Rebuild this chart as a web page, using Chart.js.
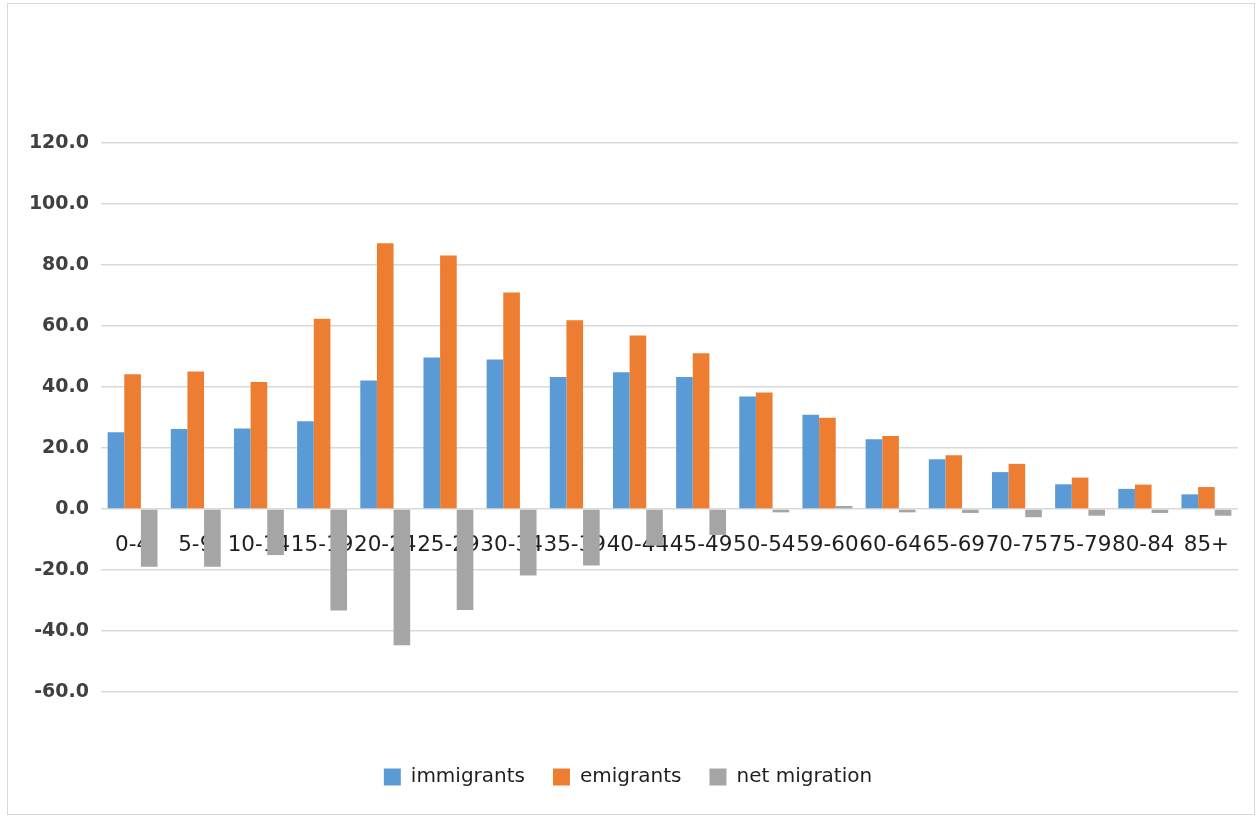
<!DOCTYPE html>
<html>
<head>
<meta charset="utf-8">
<script src="https://cdn.jsdelivr.net/npm/chart.js@4/dist/chart.umd.min.js"></script>
<style>
  html, body { margin: 0; padding: 0; background: #fff; }
  #wrap { position: relative; width: 1257px; height: 816px; }
  #frame { position: absolute; left: 7px; top: 3px; width: 1246px; height: 810px;
           border: 1px solid #d9d9d9; pointer-events: none; }
</style>
</head>
<body>
<div id="wrap">
  <canvas id="myChart" width="1257" height="816"></canvas>
  <div id="frame"></div>
</div>
<script>
// age groups as printed on the axis
const ageGroups = ['0-4', '5-9', '10-14', '15-19', '20-24', '25-29', '30-34', '35-39', '40-44',
                   '45-49', '50-54', '59-60', '60-64', '65-69', '70-75', '75-79', '80-84', '85+'];
const immigrants = [25.2, 26.2, 26.4, 28.8, 42.1, 49.7, 49.0, 43.3, 44.8,
                    43.3, 36.9, 30.9, 22.9, 16.3, 12.1, 8.1, 6.6, 4.8];
const emigrants = [44.2, 45.1, 41.6, 62.4, 87.1, 83.1, 71.0, 61.9, 56.9,
                   51.1, 38.2, 29.9, 23.9, 17.6, 14.8, 10.3, 8.0, 7.2];
const netMigration = [-18.9, -18.9, -15.1, -33.3, -44.7, -33.1, -21.8, -18.5, -12.0,
                      -8.5, -1.1, 1.0, -1.1, -1.3, -2.7, -2.2, -1.3, -2.2];
const yTicks = [-60, -40, -20, 0, 20, 40, 60, 80, 100, 120];

var ctx = document.getElementById('myChart').getContext('2d');
var myChart = new Chart(ctx, {
    type: 'bar',
    data: {
        labels: ageGroups,
        datasets: [{
            label: 'immigrants',
            data: immigrants,
            backgroundColor: '#5b9bd5'
        }, {
            label: 'emigrants',
            data: emigrants,
            backgroundColor: '#ed7d31'
        }, {
            label: 'net migration',
            data: netMigration,
            backgroundColor: '#a5a5a5'
        }]
    },
    options: {
        responsive: false,
        animation: false,
        categoryPercentage: 0.79,
        barPercentage: 1.0,
        layout: {
            padding: { top: 143, right: 19, bottom: 19, left: 18 }
        },
        plugins: {
            tooltip: { enabled: false },
            legend: {
                position: 'bottom',
                title: { display: true, text: '', font: { size: 1, lineHeight: 1 }, padding: { top: 46, bottom: 0 } },
                labels: {
                    boxWidth: 17,
                    boxHeight: 17,
                    padding: 28,
                    color: '#1f1f1f',
                    font: { family: 'DejaVu Sans', size: 20 }
                }
            }
        },
        scales: {
            x: {
                position: { y: 0 },
                grid: { display: false },
                border: { display: false },
                ticks: {
                    autoSkip: false,
                    maxRotation: 0,
                    minRotation: 0,
                    padding: 16,
                    color: '#1f1f1f',
                    font: { family: 'DejaVu Sans', size: 21.5 }
                }
            },
            y: {
                min: yTicks[0],
                max: yTicks[yTicks.length - 1],
                afterFit: function (scale) { scale.width = 83; },
                afterBuildTicks: function (scale) {
                    scale.ticks = yTicks.map(function (v) { return { value: v }; });
                },
                grid: { color: '#d9d9d9', lineWidth: 1.5, drawTicks: false },
                border: { display: false },
                ticks: {
                    padding: 12,
                    color: '#404040',
                    font: { family: 'DejaVu Sans', size: 19, weight: 'bold' },
                    callback: function (v) { return Number(v).toFixed(1); }
                }
            }
        }
    }
});
</script>
</body>
</html>
